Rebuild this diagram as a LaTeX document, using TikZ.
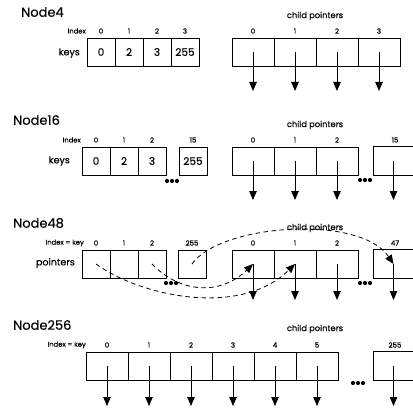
\documentclass[tikz,border=0pt]{standalone}
\usepackage{fontspec}
\setmainfont{Poppins}[FakeBold=0.25]
\usetikzlibrary{arrows.meta,calc,shadows}
\begin{document}
\begin{tikzpicture}[x=1pt,y=-1pt,
  cellbase/.style={draw, line width=0.8pt, inner sep=0pt, minimum height=28pt, fill=white,
    drop shadow={shadow xshift=0.6pt, shadow yshift=-1.2pt, opacity=0.18}},
  kcell/.style={cellbase, minimum width=28pt, font=\fontsize{10.5}{12}\selectfont},
  ccell/.style={cellbase, minimum width=42pt},
  opencell/.style={inner sep=0pt, minimum height=28pt, minimum width=39pt},
  idx/.style={font=\fontsize{7}{8}\selectfont, inner sep=0pt},
  side/.style={font=\fontsize{9.5}{11}\selectfont, inner sep=0pt, anchor=east},
  sidesmall/.style={font=\fontsize{6.8}{8}\selectfont, inner sep=0pt, anchor=east},
  ttl/.style={font=\fontsize{13}{15}\selectfont, inner sep=0pt, anchor=west},
  cpl/.style={font=\fontsize{8.3}{10}\selectfont, inner sep=0pt},
  ptr/.style={line width=0.8pt, -{Triangle[width=7.5pt,length=9pt]}},
  dptr/.style={line width=0.8pt, dash pattern=on 4.5pt off 3.5pt, -{Triangle[width=7.5pt,length=9pt]}},
  dotfill/.style={fill=black}
]
\useasboundingbox (0,0) rectangle (413,412);

% ---------------- Node4 ----------------
\node[ttl] (t4) at (21,12) {Node4};
\node[sidesmall] (ix4) at (86,31) {Index};
\node[side] (kl4) at (80,53) {keys};
\foreach \v [count=\i from 0] in {0,2,3,255} {
  \node[kcell] (k4-\i) at ({101+28*\i},52) {\v};
  \node[idx] (ki4-\i) at ({101+28*\i},31) {\i};
}
\node[cpl] (cp4) at (315,16) {child pointers};
\foreach \i in {0,1,2,3} {
  \node[ccell] (c4-\i) at ({253+42*\i},52) {};
  \node[idx] (ci4-\i) at ({253+42*\i},31) {\i};
  \coordinate (e4-\i) at ({253+42*\i},91);
  \draw[ptr] (c4-\i.center) -- (e4-\i);
}

% ---------------- Node16 ----------------
\node[ttl] (t16) at (13,120) {Node16};
\node[sidesmall] (ix16) at (81,140) {Index};
\node[side] (kl16) at (70,161) {keys};
\foreach \v [count=\i from 0] in {0,2,3} {
  \node[kcell] (k16-\i) at ({96+28*\i},161) {\v};
  \node[idx] (ki16-\i) at ({96+28*\i},140) {\i};
}
\node[kcell] (k16-15) at (193,161) {255};
\node[idx] (ki16-15) at (193,140) {15};
\coordinate (d16k) at (172,181);
\foreach \dx in {-5,0,5} \fill[dotfill] ($(d16k)+(\dx,0)$) circle (2.1pt);
\node[cpl] (cp16) at (315,125) {child pointers};
\foreach \i in {0,1,2} {
  \node[ccell] (c16-\i) at ({253+42*\i},161) {};
  \node[idx] (ci16-\i) at ({253+42*\i},140) {\i};
  \coordinate (e16-\i) at ({253+42*\i},200);
  \draw[ptr] (c16-\i.center) -- (e16-\i);
}
\node[opencell] (c16-15) at (393.5,161) {};
\draw[line width=0.8pt] (c16-15.north east) -- (c16-15.north west) -- (c16-15.south west) -- (c16-15.south east);
\node[idx] (ci16-15) at (395,140) {15};
\coordinate (e16-15) at (393.5,200);
\draw[ptr] (c16-15.center) -- (e16-15);
\coordinate (d16c) at (365,180);
\foreach \dx in {-5,0,5} \fill[dotfill] ($(d16c)+(\dx,0)$) circle (2.1pt);

% ---------------- Node48 ----------------
\node[ttl] (t48) at (13,223) {Node48};
\node[sidesmall] (ix48) at (84,243) {Index = key};
\node[side] (kl48) at (75,263) {pointers};
\foreach \i in {0,1,2} {
  \node[kcell] (k48-\i) at ({96+28*\i},264) {};
  \node[idx] (ki48-\i) at ({96+28*\i},243) {\i};
}
\node[kcell] (k48-255) at (192,264) {};
\node[idx] (ki48-255) at (192,243) {255};
\coordinate (d48k) at (171,283);
\foreach \dx in {-5,0,5} \fill[dotfill] ($(d48k)+(\dx,0)$) circle (2.1pt);
\node[cpl] (cp48) at (315,228) {child pointers};
\foreach \i in {0,1,2} {
  \node[ccell] (c48-\i) at ({253+42*\i},264) {};
  \node[idx] (ci48-\i) at ({253+42*\i},243) {\i};
  \coordinate (e48-\i) at ({253+42*\i},300);
  \draw[ptr] (c48-\i.center) -- (e48-\i);
}
\node[opencell] (c48-47) at (393.5,264) {};
\draw[line width=0.8pt] (c48-47.north east) -- (c48-47.north west) -- (c48-47.south west) -- (c48-47.south east);
\node[idx] (ci48-47) at (395,243) {47};
\coordinate (e48-47) at (393.5,300);
\draw[ptr] (c48-47.center) -- (e48-47);
\coordinate (d48c) at (365,283);
\foreach \dx in {-5,0,5} \fill[dotfill] ($(d48c)+(\dx,0)$) circle (2.1pt);
% dashed indirections
\draw[dptr] (k48-0.center) .. controls (140,296) and (240,318) .. (c48-1.center);
\draw[dptr] (k48-2.center) .. controls (180,293) and (220,296) .. (c48-0.center);
\draw[dptr] (k48-255.center) .. controls (220,224) and (360,214) .. (c48-47.center);

% ---------------- Node256 ----------------
\node[ttl] (t256) at (13,325) {Node256};
\node[sidesmall] (ix256) at (86,345) {Index = key};
\node[cpl] (cp256) at (315,329) {child pointers};
\foreach \i in {0,1,2,3,4,5} {
  \node[ccell] (c256-\i) at ({107+42*\i},366) {};
  \node[idx] (ci256-\i) at ({107+42*\i},345) {\i};
  \coordinate (e256-\i) at ({107+42*\i},406);
  \draw[ptr] (c256-\i.center) -- (e256-\i);
}
\node[opencell] (c256-255) at (393.5,366) {};
\draw[line width=0.8pt] (c256-255.north east) -- (c256-255.north west) -- (c256-255.south west) -- (c256-255.south east);
\node[idx] (ci256-255) at (395,345) {255};
\coordinate (e256-255) at (393.5,406);
\draw[ptr] (c256-255.center) -- (e256-255);
\coordinate (d256c) at (358,383);
\foreach \dx in {-5,0,5} \fill[dotfill] ($(d256c)+(\dx,0)$) circle (2.1pt);
\end{tikzpicture}
\end{document}
